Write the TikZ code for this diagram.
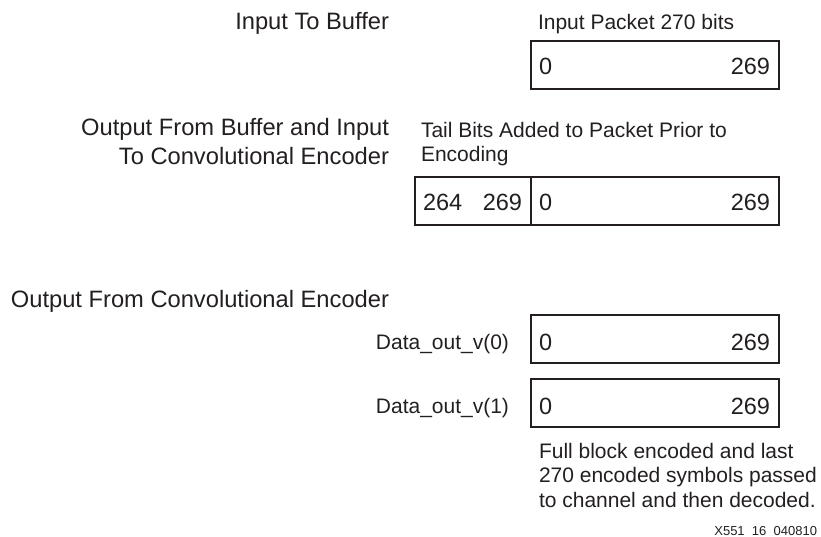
\documentclass[tikz,border=0pt]{standalone}
\usepackage{fontspec}
\setmainfont{Liberation Sans}
\definecolor{ink}{HTML}{231F20}
\begin{document}
\begin{tikzpicture}[x=1pt,y=-1pt,
  every node/.style={inner sep=0pt,outer sep=0pt,text=ink},
  head/.style={font=\fontsize{23.7}{28}\selectfont},
  note/.style={font=\fontsize{21}{25}\selectfont},
  num/.style={font=\fontsize{23.5}{28}\selectfont},
  field/.style={draw=ink,line width=2pt,anchor=north west,minimum height=48pt},
  tag/.style={font=\fontsize{13}{15}\selectfont}]
\useasboundingbox (0,0) rectangle (821,537);

% stage 1: packet entering the buffer
\node[head,anchor=base east] (inbuf) at (389,30) {Input To Buffer};
\node[note,anchor=base west] (inpkt) at (538,30) {Input Packet 270 bits};
\node[field,minimum width=248pt] (p1) at (531,41) {};
\node[num,anchor=base west] (p1l) at (539,75) {0};
\node[num,anchor=base east] (p1r) at (770,75) {269};

% stage 2: buffer output with tail bits prepended
\node[head,anchor=base east] (outbuf1) at (389,136) {Output From Buffer and Input};
\node[head,anchor=base east] (outbuf2) at (389,165) {To Convolutional Encoder};
\node[note,anchor=base west] (tail1) at (421,138) {Tail Bits Added to Packet Prior to};
\node[note,anchor=base west] (tail2) at (421,162) {Encoding};
\node[field,minimum width=116pt] (tb) at (415,177) {};
\node[field,minimum width=248pt] (p2) at (531,177) {};
\node[num,anchor=base west] (tbl) at (423,211) {264};
\node[num,anchor=base east] (tbr) at (522,211) {269};
\node[num,anchor=base west] (p2l) at (539,211) {0};
\node[num,anchor=base east] (p2r) at (770,211) {269};

% stage 3: encoder outputs
\node[head,anchor=base east] (outenc) at (389,307) {Output From Convolutional Encoder};
\node[note,anchor=base east] (v0) at (509,349) {Data\_out\_v(0)};
\node[field,minimum width=248pt] (b0) at (531,315) {};
\node[num,anchor=base west] (b0l) at (539,350) {0};
\node[num,anchor=base east] (b0r) at (770,350) {269};
\node[note,anchor=base east] (v1) at (509,413) {Data\_out\_v(1)};
\node[field,minimum width=248pt] (b1) at (531,379) {};
\node[num,anchor=base west] (b1l) at (539,414) {0};
\node[num,anchor=base east] (b1r) at (770,414) {269};

\node[note,anchor=base west] (n1) at (539,458) {Full block encoded and last};
\node[note,anchor=base west] (n2) at (539,482) {270 encoded symbols passed};
\node[note,anchor=base west] (n3) at (539,507) {to channel and then decoded.};
\node[tag,anchor=base east] (fig) at (817,535) {X551\ \ 16\ \ 040810};
\end{tikzpicture}
\end{document}
